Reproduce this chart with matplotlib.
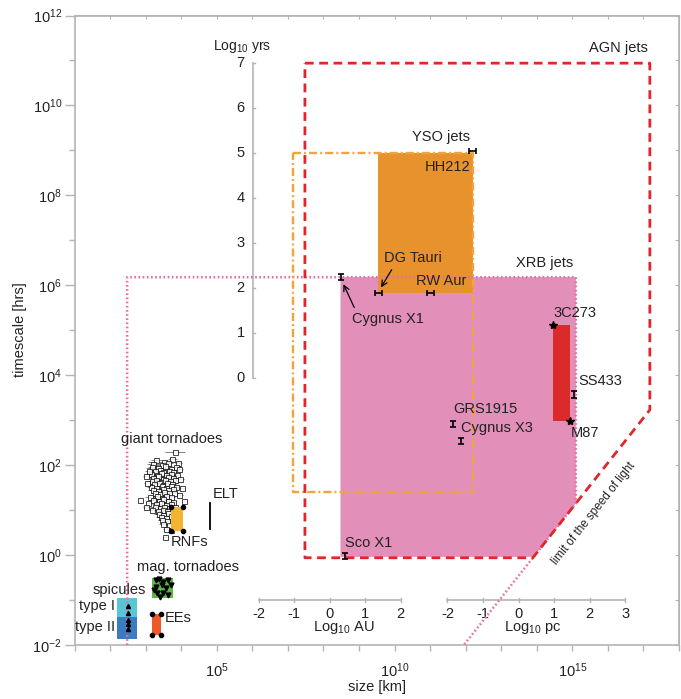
import numpy as np
import matplotlib
matplotlib.use("Agg")
import matplotlib.pyplot as plt
from matplotlib.ticker import FixedLocator, FuncFormatter, NullLocator

plt.rcParams['font.family'] = ['Liberation Sans', 'DejaVu Sans']
plt.rcParams['mathtext.default'] = 'regular'
plt.rcParams['lines.scale_dashes'] = False

# all values are log10(size / km) and log10(time / hrs)
LOG_YR = np.log10(8766.0)
LOG_AU = np.log10(1.496e8)
LOG_PC = np.log10(3.086e13)

# jet regions
agn_s = [7.48, 17.18, 17.18, 13.89, 7.48, 7.48]
agn_t = [10.94, 10.94, 3.23, -0.06, -0.06, 10.94]

yso_s = [7.14, 12.20, 12.20, 7.14, 7.14]
yso_t = [8.94, 8.94, 1.40, 1.40, 8.94]
yso_fill_s = [9.54, 12.20]
yso_fill_t = [5.82, 8.94]

xrb_s = [2.48, 2.48, 15.10, 15.10, 11.95]
xrb_t = [-2.0, 6.18, 6.18, 1.15, -2.0]
xrb_fill_s = [8.48, 15.10, 15.10, 13.91, 8.48]
xrb_fill_t = [6.18, 6.18, 1.15, -0.04, -0.04]

agn_box_s = [14.46, 14.93]
agn_box_t = [2.98, 5.12]

# individual objects
vbar_names = ['Cygnus X1', 'Sco X1', 'GRS1915', 'Cygnus X3', 'SS433']
vbar_s = [8.49, 8.61, 11.64, 11.86, 15.06]
vbar_t = [6.18, -0.02, 2.91, 2.54, 3.57]

hbar_names = ['HH212', 'DG Tauri', 'RW Aur']
hbar_s = [12.20, 9.54, 11.02]
hbar_t = [8.99, 5.82, 5.82]

star_names = ['3C273', 'M87']
star_s = [14.46, 14.93]
star_t = [5.12, 2.98]

# solar features
spic1_s, spic1_t = [2.19, 2.77], [-1.37, -0.96]
spic2_s, spic2_t = [2.19, 2.77], [-1.87, -1.37]
spic_pts_s = [2.51, 2.51, 2.51, 2.51, 2.51]
spic_pts_t = [-1.13, -1.28, -1.44, -1.53, -1.65]

magt_s, magt_t = [3.17, 3.76], [-0.96, -0.50]
magt_pts_s = [3.29, 3.38, 3.50, 3.64, 3.29, 3.45, 3.57, 3.71, 3.33, 3.48, 3.64, 3.40, 3.24]
magt_pts_t = [-0.56, -0.54, -0.59, -0.56, -0.70, -0.67, -0.74, -0.67, -0.85, -0.85, -0.89, -0.93, -0.78]

ees_s, ees_t = [3.17, 3.43], [-1.78, -1.30]
rnf_s, rnf_t = [3.71, 4.06], [0.54, 1.06]
elt_s, elt_t = 4.81, [0.57, 1.16]

gt_s = [3.83, 3.30, 3.52, 3.75, 3.22, 3.45, 3.62, 3.92, 3.18, 3.35, 3.55, 3.70, 3.85, 3.25, 3.41, 3.50,
        3.66, 3.78, 3.15, 3.31, 3.44, 3.58, 3.72, 3.88, 3.22, 3.36, 3.48, 3.62, 3.76, 3.18, 3.28, 3.43,
        3.54, 3.68, 3.82, 3.24, 3.38, 3.50, 3.60, 3.74, 3.14, 3.30, 3.45, 3.56, 3.70, 3.86, 3.20, 3.34,
        3.48, 3.63, 3.78, 3.26, 3.40, 3.52, 3.66, 3.80, 3.12, 3.32, 3.46, 3.58, 3.72, 2.84, 3.22, 3.38,
        3.50, 3.64, 3.76, 3.08, 3.30, 3.44, 3.56, 3.70, 3.26, 3.40, 3.52, 3.66, 3.82, 3.17, 3.34, 3.48,
        3.60, 3.74, 3.38, 3.50, 3.62, 3.78, 3.42, 3.56, 3.70, 3.46, 3.60, 3.76, 3.50, 3.66, 3.56, 3.72,
        3.54, 3.05, 3.00, 3.98, 4.03, 3.95, 3.10, 4.08, 3.02, 3.94]
gt_t = [2.30, 2.12, 2.08, 2.14, 2.03, 2.00, 2.05, 2.04, 1.96, 1.93, 1.97, 1.92, 1.95, 1.87, 1.90, 1.85,
        1.88, 1.84, 1.80, 1.78, 1.82, 1.79, 1.81, 1.77, 1.72, 1.75, 1.70, 1.74, 1.71, 1.65, 1.67, 1.63,
        1.68, 1.64, 1.66, 1.58, 1.60, 1.56, 1.61, 1.57, 1.52, 1.50, 1.54, 1.49, 1.53, 1.51, 1.45, 1.43,
        1.47, 1.44, 1.46, 1.38, 1.36, 1.40, 1.37, 1.39, 1.30, 1.32, 1.28, 1.31, 1.29, 1.22, 1.23, 1.20,
        1.24, 1.21, 1.19, 1.15, 1.13, 1.16, 1.12, 1.14, 1.07, 1.05, 1.08, 1.04, 1.06, 1.00, 0.98, 1.01,
        0.97, 0.99, 0.92, 0.90, 0.93, 0.89, 0.85, 0.83, 0.86, 0.77, 0.75, 0.78, 0.68, 0.66, 0.58, 0.56,
        0.41, 1.60, 1.75, 1.70, 1.50, 1.33, 1.88, 1.20, 1.08, 1.92]
gt_err = [0.28, 0.15, 0.45, 0.12, 0.18, 0.25, 0.15, 0.10, 0.12, 0.35, 0.18, 0.15, 0.12, 0.22, 0.15, 0.30,
          0.12, 0.10, 0.15, 0.18, 0.40, 0.15, 0.12, 0.10, 0.15, 0.25, 0.12, 0.18, 0.10, 0.12, 0.15, 0.28,
          0.12, 0.15, 0.10, 0.12, 0.18, 0.15, 0.32, 0.12, 0.10, 0.15, 0.22, 0.12, 0.15, 0.10, 0.12, 0.18,
          0.15, 0.25, 0.10, 0.12, 0.15, 0.18, 0.12, 0.10, 0.15, 0.12, 0.25, 0.15, 0.12, 0.00, 0.15, 0.12,
          0.18, 0.15, 0.10, 0.08, 0.12, 0.15, 0.20, 0.12, 0.15, 0.10, 0.12, 0.18, 0.10, 0.08, 0.12, 0.15,
          0.10, 0.12, 0.15, 0.12, 0.10, 0.10, 0.12, 0.15, 0.10, 0.12, 0.10, 0.08, 0.12, 0.10, 0.08, 0.10,
          0.06, 0.10, 0.08, 0.10, 0.08, 0.10, 0.12, 0.06, 0.08, 0.10]

RED = '#e0262b'
ORANGE = '#f2a33a'
PINK = '#e56fa3'


def L(v):
    return 10.0 ** np.asarray(v, dtype=float)


def box(ax, s, t, color, z):
    ax.fill(L([s[0], s[1], s[1], s[0]]), L([t[0], t[0], t[1], t[1]]), color=color, lw=0, zorder=z)


fig = plt.figure(figsize=(6.81, 6.99), dpi=100)
ax = fig.add_axes([74.5 / 681, 1 - 645 / 699, 604.5 / 681, 629.5 / 699])
ax.set_xscale('log')
ax.set_yscale('log')
ax.set_xlim(1e1, 1e18)
ax.set_ylim(1e-2, 1e12)

# regions
ax.fill(L(xrb_fill_s), L(xrb_fill_t), color='#e290b9', lw=0, zorder=1)
box(ax, yso_fill_s, yso_fill_t, '#e8922e', 2)
box(ax, agn_box_s, agn_box_t, '#da2a2a', 3)
ax.plot(L(xrb_s), L(xrb_t), color=PINK, lw=1.8, ls=(0, (1.2, 1.8)), zorder=4)
ax.plot(L(yso_s), L(yso_t), color=ORANGE, lw=1.7, ls=(0, (5.8, 2.2, 1.4, 2.2)), zorder=4)
ax.plot(L(agn_s), L(agn_t), color=RED, lw=2.0, ls=(0, (6.3, 4.0)), zorder=5)

# objects
ax.errorbar(L(vbar_s), L(vbar_t), yerr=[L(vbar_t) * (1 - 10 ** -0.07), L(vbar_t) * (10 ** 0.07 - 1)],
            fmt='none', ecolor='black', elinewidth=1.2, capsize=2.2, capthick=1.2, zorder=6)
ax.errorbar(L(hbar_s), L(hbar_t), xerr=[L(hbar_s) * (1 - 10 ** -0.1), L(hbar_s) * (10 ** 0.1 - 1)],
            fmt='none', ecolor='black', elinewidth=1.2, capsize=2.2, capthick=1.2, zorder=6)
ax.plot(L(star_s), L(star_t), '*', color='black', ms=6, zorder=6)

# solar features
box(ax, spic1_s, spic1_t, '#5bc5d8', 2)
box(ax, spic2_s, spic2_t, '#3b7bc4', 2)
ax.plot(L(spic_pts_s), L(spic_pts_t), '^', color='black', ms=3, zorder=6)
box(ax, magt_s, magt_t, '#5db746', 2)
ax.plot(L(magt_pts_s), L(magt_pts_t), 'v', color='black', ms=3.5, zorder=6)
box(ax, ees_s, ees_t, '#ec5a2b', 2)

gs, gt, ge = np.array(gt_s), np.array(gt_t), np.array(gt_err)
ax.hlines(L(gt), L(gs - ge), L(gs + ge), color='#6e6e6e', lw=0.6, zorder=4)
ax.plot(L(gs), L(gt), 's', mfc='white', mec='black', mew=0.6, ms=3.6, alpha=0.85, zorder=5)

box(ax, rnf_s, rnf_t, '#f2b431', 6)
for bs, bt in [(ees_s, ees_t), (rnf_s, rnf_t)]:
    ax.plot(L([bs[0], bs[1], bs[0], bs[1]]), L([bt[0], bt[0], bt[1], bt[1]]), 'o', color='black',
            ms=3, zorder=7)
ax.plot(L([elt_s, elt_s]), L(elt_t), color='black', lw=1.3, zorder=6)

# secondary scales drawn in the plot
ax_s_yr = 6.01
ax.plot(L([ax_s_yr, ax_s_yr]), L([LOG_YR, LOG_YR + 7]), color='#b4b4b4', lw=1.2, zorder=3)
for k in range(8):
    ax.plot(L([ax_s_yr, ax_s_yr + 0.07]), L([LOG_YR + k, LOG_YR + k]), color='#b4b4b4', lw=1, zorder=3)
    ax.text(L(5.79), L(LOG_YR + k), str(k), ha='right', va='center', fontsize=10.5, color='#222222')
ax.text(L(5.71), L(11.30), r'Log$_{10}$ yrs', ha='center', va='center', fontsize=10, color='#222222')

for base, lo, hi, name in [(LOG_AU, -2, 2, 'AU'), (LOG_PC, -2, 3, 'pc')]:
    ax.plot(L([base + lo, base + hi]), L([-1.0, -1.0]), color='#b4b4b4', lw=1.2, zorder=3)
    for k in range(lo, hi + 1):
        ax.plot(L([base + k, base + k]), L([-0.95, -1.05]), color='#b4b4b4', lw=1, zorder=3)
        ax.text(L(base + k), L(-1.30), str(k), ha='center', va='center', fontsize=10.5, color='#222222')
    ax.text(L(base + 0.4), L(-1.62), r'Log$_{10}$ ' + name, ha='center', va='center', fontsize=10.5,
            color='#222222')

# labels
tk = dict(fontsize=10.5, color='#222222', va='center', zorder=8)
ax.text(L(17.13), L(11.28), 'AGN jets', ha='right', **tk)
ax.text(L(12.12), L(9.30), 'YSO jets', ha='right', **tk)
ax.text(L(12.12), L(8.63), 'HH212', ha='right', **tk)
ax.text(L(15.02), L(6.50), 'XRB jets', ha='right', **tk)
ax.text(L(9.70), L(6.61), 'DG Tauri', ha='left', **tk)
ax.text(L(10.60), L(6.09), 'RW Aur', ha='left', **tk)
ax.text(L(8.80), L(5.25), 'Cygnus X1', ha='left', **tk)
ax.text(L(14.46), L(5.38), '3C273', ha='left', **tk)
ax.text(L(15.16), L(3.87), 'SS433', ha='left', **tk)
ax.text(L(11.64), L(3.25), 'GRS1915', ha='left', **tk)
ax.text(L(11.87), L(2.83), 'Cygnus X3', ha='left', **tk)
ax.text(L(14.96), L(2.71), 'M87', ha='left', **tk)
ax.text(L(8.61), L(0.27), 'Sco X1', ha='left', **tk)
ax.text(L(3.74), L(2.58), 'giant tornadoes', ha='center', **tk)
ax.text(L(4.90), L(1.36), 'ELT', ha='left', **tk)
ax.text(L(3.71), L(0.30), 'RNFs', ha='left', **tk)
ax.text(L(4.19), L(-0.26), 'mag. tornadoes', ha='center', **tk)
ax.text(L(3.01), L(-0.78), 'spicules', ha='right', **tk)
ax.text(L(2.14), L(-1.13), 'type I', ha='right', **tk)
ax.text(L(2.14), L(-1.60), 'type II', ha='right', **tk)
ax.text(L(3.55), L(-1.40), 'EEs', ha='left', **tk)
ax.text(L(15.61), L(0.93), 'limit of the speed of light', ha='center', va='center', rotation=51.7,
        fontsize=8.5, color='#222222')

ax.annotate('', xy=(L(8.53), L(6.08)), xytext=(L(8.90), L(5.45)),
            arrowprops=dict(arrowstyle='->', color='black', lw=0.9))
ax.annotate('', xy=(L(9.58), L(5.90)), xytext=(L(9.96), L(6.40)),
            arrowprops=dict(arrowstyle='->', color='black', lw=0.9))

# axes styling
GRAY = '#b4b4b4'
for sp in ax.spines.values():
    sp.set_color(GRAY)
    sp.set_linewidth(1.2)

xt = 10.0 ** np.arange(1, 19)
ax.xaxis.set_major_locator(FixedLocator(xt))
ax.xaxis.set_minor_locator(NullLocator())
ax.xaxis.set_major_formatter(FuncFormatter(
    lambda v, p: r'$10^{%d}$' % round(np.log10(v)) if round(np.log10(v)) in (5, 10, 15) else ''))
ax.yaxis.set_major_locator(FixedLocator(10.0 ** np.arange(-2, 13, 2)))
ax.yaxis.set_minor_locator(FixedLocator(10.0 ** np.arange(-1, 12, 2)))
ax.yaxis.set_minor_formatter(FuncFormatter(lambda v, p: ''))
ax.yaxis.set_major_formatter(FuncFormatter(lambda v, p: r'$10^{%d}$' % round(np.log10(v))))
ax.tick_params(axis='y', which='major', direction='out', length=7, width=1, color=GRAY,
               labelsize=10.5, labelcolor='#222222', pad=2)
ax.tick_params(axis='y', which='minor', direction='out', length=4, width=1, color=GRAY)
ax.tick_params(axis='x', which='major', direction='out', length=4, width=1, color=GRAY,
               labelsize=10.5, labelcolor='#222222', pad=8)

sx = ax.secondary_xaxis('top')
sx.set_xticks(xt)
sx.xaxis.set_minor_locator(NullLocator())
sx.tick_params(direction='in', length=3, color=GRAY, labeltop=False)
sx.spines['top'].set_color(GRAY)
sy = ax.secondary_yaxis('right')
sy.set_yticks(10.0 ** np.arange(-2, 13))
sy.yaxis.set_minor_locator(NullLocator())
sy.tick_params(direction='in', length=3, color=GRAY, labelright=False)
sy.spines['right'].set_color(GRAY)

fig.text(20 / 681, 1 - 330 / 699, 'timescale [hrs]', rotation=90, ha='center', va='center',
         fontsize=10.5, color='#222222')
fig.text(377 / 681, 1 - 687 / 699, 'size [km]', ha='center', va='center', fontsize=10.5, color='#222222')

fig.savefig('out.png', dpi=100)
